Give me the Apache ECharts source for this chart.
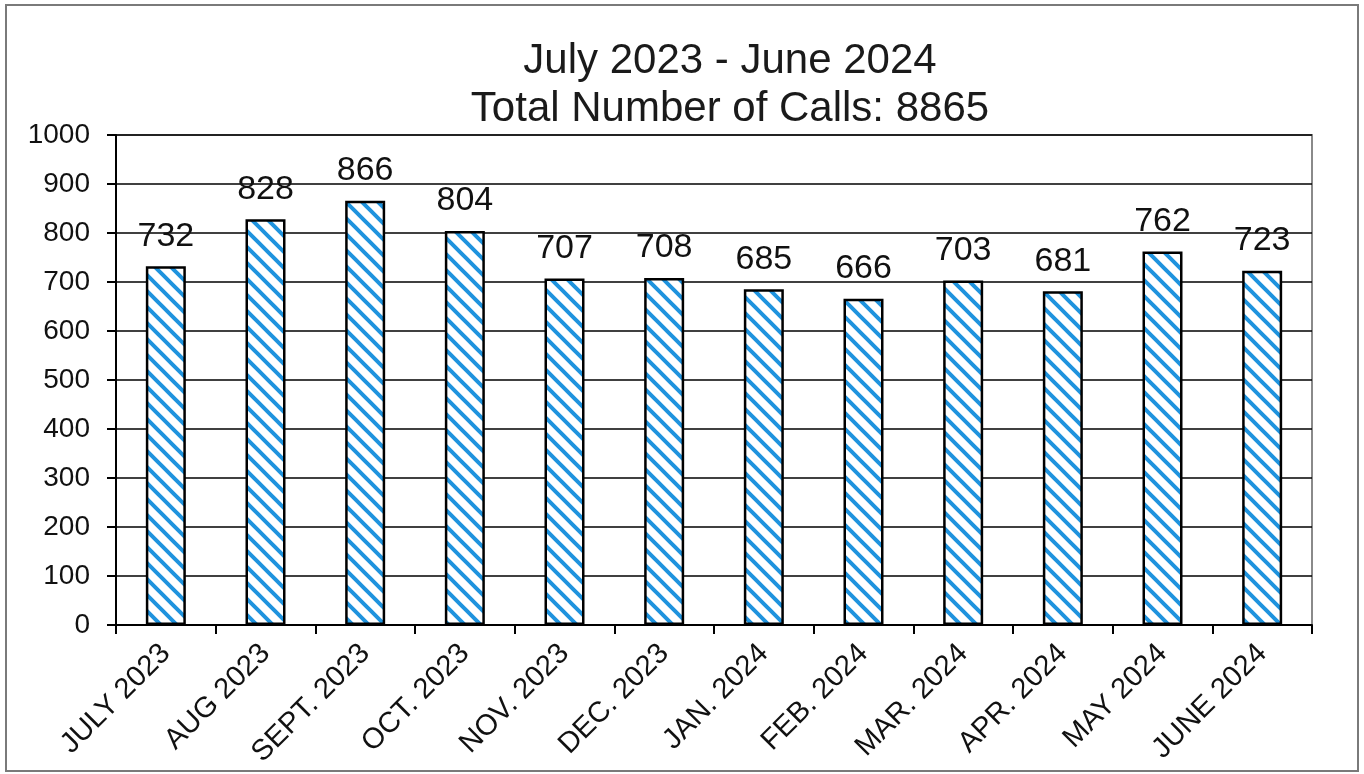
<!DOCTYPE html>
<html>
<head>
<meta charset="utf-8">
<script src="https://cdn.jsdelivr.net/npm/echarts@6/dist/echarts.min.js"></script>
<style>
html,body{margin:0;padding:0;background:#fff;}
#chart{width:1364px;height:774px;}
</style>
</head>
<body>
<div id="chart"></div>
<script>
const titleLines = ["July 2023 - June 2024", "Total Number of Calls: 8865"];
const categories = ["JULY 2023","AUG 2023","SEPT. 2023","OCT. 2023","NOV. 2023","DEC. 2023","JAN. 2024","FEB. 2024","MAR. 2024","APR. 2024","MAY 2024","JUNE 2024"];
const calls = [732, 828, 866, 804, 707, 708, 685, 666, 703, 681, 762, 723];
const yTicks = [0, 100, 200, 300, 400, 500, 600, 700, 800, 900, 1000];

// diagonal stripe pattern tile
function makePattern() {
  const s = 16;
  const c = document.createElement('canvas');
  c.width = s; c.height = s;
  const ctx = c.getContext('2d');
  ctx.fillStyle = '#ffffff';
  ctx.fillRect(0, 0, s, s);
  ctx.strokeStyle = '#1f93de';
  ctx.lineWidth = 4;
  ctx.beginPath();
  for (let k = -1; k <= 1; k++) {
    ctx.moveTo(k * s - 2, -2);
    ctx.lineTo(k * s + s + 2, s + 2);
  }
  ctx.stroke();
  return c;
}

const FONT = '"Liberation Sans", Arial, sans-serif';
const chart = echarts.init(document.getElementById('chart'));
chart.setOption({
  backgroundColor: '#ffffff',
  animation: false,
  title: {
    text: titleLines.join('\n'),
    left: 725,
    top: 32,
    textAlign: 'center',
    textStyle: { fontFamily: FONT, fontSize: 42, fontWeight: 'normal', color: '#1a1a1a', lineHeight: 48 }
  },
  graphic: [{
    type: 'rect',
    shape: { x: 6, y: 5, width: 1352, height: 766 },
    style: { fill: 'none', stroke: '#7a7a7a', lineWidth: 2 },
    silent: true
  }],
  grid: {
    left: 116, right: 52, top: 135, bottom: 149,
    show: true, borderColor: '#8a8a8a', borderWidth: 2, backgroundColor: 'transparent'
  },
  xAxis: {
    type: 'category',
    data: categories,
    boundaryGap: true,
    axisLine: { lineStyle: { color: '#000', width: 2 } },
    axisTick: { show: true, alignWithLabel: false, length: 9, lineStyle: { color: '#000', width: 2 } },
    axisLabel: { interval: 0, rotate: 45, margin: 24, fontFamily: FONT, fontSize: 29, color: '#111' }
  },
  yAxis: {
    type: 'value',
    min: yTicks[0],
    max: yTicks[yTicks.length - 1],
    interval: 100,
    axisLine: { show: true, lineStyle: { color: '#000', width: 2 } },
    axisTick: { show: true, length: 9, lineStyle: { color: '#000', width: 2 } },
    axisLabel: { margin: 26, fontFamily: FONT, fontSize: 28, color: '#111', formatter: function (v) { return String(v); } },
    splitLine: { show: true, lineStyle: { color: '#000', width: 1.5 } }
  },
  series: [{
    type: 'bar',
    data: calls,
    barWidth: 40,
    itemStyle: {
      color: { image: makePattern(), repeat: 'repeat' },
      borderColor: '#000',
      borderWidth: 2.5
    },
    label: {
      show: true,
      position: 'top',
      distance: 13,
      fontFamily: FONT,
      fontSize: 34,
      color: '#111'
    }
  }]
});
</script>
</body>
</html>
